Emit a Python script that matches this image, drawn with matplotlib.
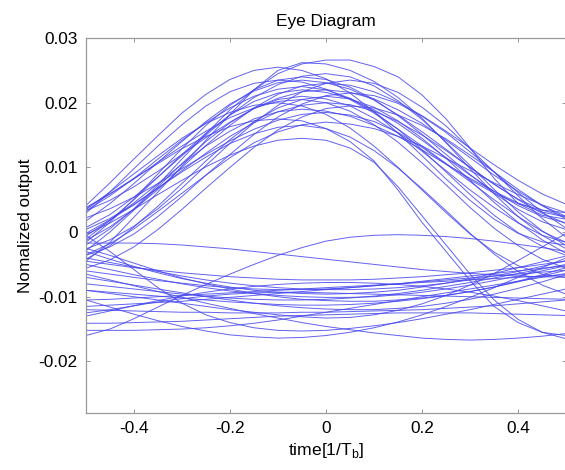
import numpy as np
import matplotlib.pyplot as plt

plt.rcParams['font.family'] = ['Liberation Sans', 'DejaVu Sans']

# sample instants inside one bit period
t = [-0.5, -0.45, -0.4, -0.35, -0.3, -0.25, -0.2, -0.15, -0.1, -0.05, 0.0,
     0.05, 0.1, 0.15, 0.2, 0.25, 0.3, 0.35, 0.4, 0.45, 0.5]

# traces for bit "1" (values x 1e-3)
ones_traces = [
    [-2.0, 0.5, 3.6, 7.3, 11.3, 15.2, 18.9, 22.0, 24.5, 26.0, 26.6, 26.6, 25.6, 24.0, 21.2, 17.5, 13.0, 8.3, 4.4, 2.6, 2.0],
    [-4.5, -1.6, 2.3, 6.2, 10.2, 14.2, 18.2, 22.0, 25.0, 26.2, 26.0, 25.0, 23.3, 20.8, 17.6, 13.8, 9.8, 5.9, 2.4, -0.5, -2.6],
    [1.7, 4.4, 7.5, 10.8, 14.0, 17.1, 19.8, 21.8, 23.1, 23.5, 23.1, 22.1, 20.4, 18.1, 15.5, 12.8, 10.0, 7.4, 5.1, 3.4, 2.4],
    [3.3, 5.6, 8.3, 11.3, 14.2, 16.9, 19.2, 21.0, 22.1, 22.5, 22.0, 20.7, 18.6, 15.9, 12.7, 9.3, 5.8, 2.6, -0.1, -2.2, -3.6],
    [-1.1, 1.8, 5.0, 8.5, 12.0, 15.3, 18.1, 20.2, 21.5, 22.0, 21.6, 20.6, 18.9, 16.8, 14.2, 11.5, 8.8, 6.3, 4.1, 2.4, 1.4],
    [-1.3, 0.8, 3.5, 6.6, 10.0, 13.4, 16.5, 19.2, 21.3, 22.6, 23.0, 22.7, 21.7, 20.1, 18.0, 15.6, 13.0, 10.4, 8.0, 5.9, 4.3],
    [-4.2, -2.1, 0.8, 4.0, 7.5, 11.0, 14.3, 17.1, 19.2, 20.5, 21.0, 20.6, 19.3, 17.2, 14.5, 11.4, 8.0, 4.6, 1.5, -1.2, -3.3],
    [4.1, 7.6, 11.3, 14.9, 18.4, 21.3, 23.6, 25.0, 25.5, 25.0, 23.7, 21.5, 18.6, 15.3, 11.8, 8.2, 4.9, 2.0, -0.2, -1.5, -2.0],
    [3.8, 5.9, 8.2, 10.8, 13.3, 15.6, 17.7, 19.2, 20.2, 20.5, 20.0, 18.7, 16.6, 13.9, 10.7, 7.3, 3.8, 0.6, -2.1, -4.2, -5.6],
    [0.4, 2.1, 4.3, 6.8, 9.5, 12.2, 14.8, 16.9, 18.6, 19.6, 20.0, 19.7, 18.7, 17.1, 15.0, 12.6, 10.0, 7.4, 5.0, 2.9, 1.3],
    [-3.6, -2.3, -0.3, 2.4, 5.5, 8.8, 12.0, 15.1, 17.8, 19.8, 21.1, 21.5, 21.1, 19.9, 17.9, 15.4, 12.4, 9.3, 6.1, 3.1, 0.6],
    [3.5, 6.2, 9.0, 11.8, 14.5, 16.8, 18.5, 19.6, 20.0, 19.5, 18.2, 16.1, 13.3, 10.0, 6.5, 3.0, -0.3, -3.1, -5.2, -6.5, -7.0],
    [-0.6, 1.8, 4.5, 7.5, 10.5, 13.3, 15.6, 17.5, 18.6, 19.0, 18.7, 17.9, 16.5, 14.8, 12.7, 10.5, 8.3, 6.3, 4.5, 3.1, 2.3],
    [2.2, 3.6, 5.4, 7.5, 9.8, 12.0, 14.1, 15.9, 17.3, 18.2, 18.5, 18.1, 17.1, 15.4, 13.1, 10.5, 7.8, 5.0, 2.4, 0.1, -1.6],
    [-5.6, -4.3, -2.3, 0.4, 3.5, 6.8, 10.0, 13.1, 15.8, 17.8, 19.1, 19.5, 19.2, 18.1, 16.5, 14.4, 11.9, 9.3, 6.6, 4.1, 2.0],
    [-0.2, 1.9, 4.2, 6.8, 9.3, 11.6, 13.7, 15.2, 16.2, 16.5, 16.0, 14.7, 12.6, 9.9, 6.7, 3.3, -0.2, -3.4, -6.1, -8.2, -9.6],
    [-0.4, 1.4, 3.5, 5.8, 8.0, 10.1, 11.9, 13.3, 14.2, 14.5, 14.2, 13.0, 10.8, 7.0, 2.5, -2.0, -6.5, -10.5, -13.5, -15.5, -16.5],
    [0.7, 2.7, 5.4, 8.5, 11.8, 15.0, 18.1, 20.8, 22.8, 24.1, 24.5, 24.0, 22.6, 20.3, 17.4, 13.9, 10.3, 6.6, 3.1, 0.2, -2.1],
    [-1.6, 1.5, 5.1, 9.0, 12.9, 16.5, 19.6, 22.0, 23.5, 24.0, 23.6, 22.4, 20.5, 18.0, 15.1, 12.0, 8.9, 6.0, 3.5, 1.6, 0.4],
    [3.3, 4.9, 7.0, 9.4, 12.0, 14.6, 17.0, 19.1, 20.7, 21.7, 22.0, 21.6, 20.6, 18.9, 16.8, 14.2, 11.5, 8.8, 6.3, 4.1, 2.4],
    [-2.6, -1.2, 0.9, 3.6, 6.8, 10.3, 13.7, 16.9, 19.6, 21.7, 23.0, 23.5, 23.0, 21.6, 19.3, 16.4, 12.9, 9.3, 5.6, 2.1, -0.8],
    [2.9, 6.2, 9.8, 13.3, 16.6, 19.5, 21.7, 23.0, 23.5, 23.2, 22.1, 20.5, 18.4, 15.9, 13.3, 10.6, 8.1, 6.0, 4.4, 3.4, 3.0],
    [-3.5, -1.8, 0.5, 3.2, 6.0, 8.8, 11.5, 13.8, 15.5, 16.6, 17.0, 16.7, 16.0, 14.8, 13.3, 11.4, 9.5, 7.6, 5.8, 4.2, 3.0],
    [-2.9, 0.0, 3.4, 7.0, 10.6, 14.0, 16.9, 19.1, 20.5, 21.0, 20.6, 19.5, 17.6, 15.3, 12.5, 9.5, 6.5, 3.8, 1.4, -0.5, -1.6],
    [3.6, 5.9, 8.3, 10.6, 12.9, 14.8, 16.3, 17.2, 17.5, 17.2, 16.0, 14.0, 11.0, 6.5, 1.5, -3.0, -7.5, -11.5, -14.0, -15.5, -16.0],
]

# traces for bit "0" (values x 1e-3)
zeros_traces = [
    [-1.7, -1.7, -1.7, -1.8, -2.0, -2.3, -2.6, -3.0, -3.4, -3.8, -4.2, -4.6, -5.0, -5.4, -5.8, -6.1, -6.4, -6.6, -6.8, -6.9, -7.0],
    [-16.0, -15.0, -13.4, -11.6, -9.8, -8.1, -6.5, -5.0, -3.6, -2.4, -1.4, -0.8, -0.5, -0.4, -0.5, -0.7, -1.0, -1.4, -1.9, -2.4, -3.0],
    [-10.5, -11.6, -12.7, -13.7, -14.6, -15.3, -15.9, -16.2, -16.4, -16.3, -16.0, -15.5, -14.8, -13.9, -12.8, -11.5, -10.1, -8.6, -7.0, -5.5, -4.0],
    [-6.5, -7.4, -8.3, -9.2, -10.1, -11.0, -11.8, -12.6, -13.3, -14.0, -14.6, -15.1, -15.6, -16.0, -16.4, -16.6, -16.7, -16.6, -16.4, -16.1, -15.7],
    [-12.0, -12.1, -12.2, -12.3, -12.4, -12.4, -12.5, -12.5, -12.5, -12.4, -12.4, -12.3, -12.2, -12.1, -12.0, -11.8, -11.6, -11.4, -11.1, -10.8, -10.5],
    [-14.1, -14.1, -14.0, -13.9, -13.8, -13.6, -13.4, -13.2, -13.0, -12.9, -12.8, -12.7, -12.6, -12.5, -12.5, -12.5, -12.5, -12.6, -12.7, -12.8, -12.9],
    [-15.2, -15.2, -15.2, -15.1, -15.0, -14.8, -14.5, -14.1, -13.6, -13.0, -12.4, -11.8, -11.2, -10.6, -10.0, -9.4, -8.8, -8.2, -7.6, -7.0, -6.4],
    [-3.0, -4.2, -5.3, -6.3, -7.2, -7.9, -8.5, -9.0, -9.3, -9.5, -9.6, -9.5, -9.3, -9.0, -8.5, -7.9, -7.2, -6.4, -5.5, -4.6, -3.7],
    [-5.0, -5.8, -6.6, -7.3, -8.0, -8.6, -9.1, -9.5, -9.8, -10.0, -10.1, -10.1, -10.0, -9.7, -9.3, -8.8, -8.2, -7.5, -6.8, -6.0, -5.2],
    [-8.0, -8.4, -8.8, -9.2, -9.6, -9.9, -10.2, -10.4, -10.5, -10.5, -10.4, -10.2, -9.9, -9.5, -9.0, -8.4, -7.8, -7.1, -6.4, -5.7, -5.0],
    [-10.5, -10.4, -10.2, -10.0, -9.8, -9.6, -9.4, -9.2, -9.0, -8.8, -8.6, -8.4, -8.2, -8.0, -7.8, -7.6, -7.4, -7.2, -7.0, -6.8, -6.6],
    [-6.0, -6.5, -7.0, -7.5, -7.9, -8.3, -8.6, -8.8, -8.9, -8.9, -8.8, -8.6, -8.3, -8.0, -7.6, -7.2, -6.8, -6.4, -6.0, -5.6, -5.2],
    [-12.5, -12.0, -11.4, -10.8, -10.3, -9.9, -9.6, -9.4, -9.3, -9.3, -9.4, -9.5, -9.6, -9.7, -9.8, -9.9, -10.0, -10.1, -10.2, -10.3, -10.4],
    [-2.5, -3.6, -4.8, -6.0, -7.1, -8.0, -8.8, -9.5, -10.0, -10.4, -10.6, -10.7, -10.7, -10.5, -10.2, -9.8, -9.2, -8.5, -7.6, -6.6, -5.5],
    [-7.0, -7.6, -8.2, -8.8, -9.4, -10.0, -10.5, -11.0, -11.4, -11.7, -11.9, -12.0, -12.0, -11.8, -11.5, -11.0, -10.4, -9.6, -8.7, -7.7, -6.6],
    [-9.0, -9.3, -9.6, -9.9, -10.2, -10.5, -10.8, -11.0, -11.2, -11.3, -11.3, -11.2, -11.0, -10.7, -10.3, -9.8, -9.2, -8.5, -7.7, -6.8, -5.9],
    [-4.0, -4.7, -5.4, -6.1, -6.8, -7.4, -7.9, -8.3, -8.6, -8.8, -8.9, -8.9, -8.8, -8.6, -8.3, -7.9, -7.4, -6.8, -6.1, -5.3, -4.4],
    [-11.5, -11.3, -11.1, -10.9, -10.7, -10.4, -10.1, -9.8, -9.5, -9.2, -8.9, -8.6, -8.3, -8.0, -7.7, -7.4, -7.1, -6.8, -6.5, -6.2, -5.9],
    [-9.0, -9.5, -10.0, -10.5, -11.0, -11.5, -12.0, -12.4, -12.8, -13.1, -13.3, -13.2, -12.8, -12.1, -11.1, -9.8, -8.2, -6.4, -4.4, -2.3, -0.2],
    [-0.5, -3.0, -5.8, -8.6, -11.0, -12.8, -14.0, -14.8, -15.2, -15.3, -15.2, -14.9, -14.5, -14.0, -13.4, -12.7, -12.0, -11.2, -10.4, -9.6, -8.8],
    [-4.5, -5.0, -5.5, -5.9, -6.3, -6.6, -6.9, -7.1, -7.3, -7.4, -7.4, -7.4, -7.3, -7.1, -6.9, -6.6, -6.3, -5.9, -5.5, -5.0, -4.5],
    [-13.0, -12.2, -11.4, -10.6, -9.9, -9.3, -8.8, -8.4, -8.1, -7.9, -7.8, -7.8, -7.9, -8.1, -8.4, -8.8, -9.3, -9.9, -10.6, -11.4, -12.2],
]

xticks = [-0.4, -0.2, 0, 0.2, 0.4]
xlabels = ['-0.4', '-0.2', '0', '0.2', '0.4']
yticks = [-0.02, -0.01, 0, 0.01, 0.02, 0.03]
ylabels = ['-0.02', '-0.01', '0', '0.01', '0.02', '0.03']

fig = plt.figure(figsize=(5.65, 4.7), dpi=100)
ax = fig.add_axes([0.152, 0.121, 0.85, 0.798])

for tr in ones_traces + zeros_traces:
    ax.plot(t, np.array(tr) * 1e-3, color='#4646ee', lw=0.7, alpha=0.85)

ax.set_xlim(-0.5, 0.5)
ax.set_ylim(-0.028, 0.03)
ax.set_xticks(xticks)
ax.set_xticklabels(xlabels)
ax.set_yticks(yticks)
ax.set_yticklabels(ylabels)
ax.tick_params(direction='in', length=3, width=0.6, color='#888888',
               top=True, right=True, labelsize=12.4, pad=6)
for s in ax.spines.values():
    s.set_color('#999999')
    s.set_linewidth(0.9)

ax.set_title('Eye Diagram', fontsize=12.4, pad=9)
ax.set_xlabel(r'time[1/T$_\mathregular{b}$]', fontsize=12.6, labelpad=3)
ax.set_ylabel('Nomalized output', fontsize=12.4, labelpad=4)

fig.savefig('out.png', dpi=100)
